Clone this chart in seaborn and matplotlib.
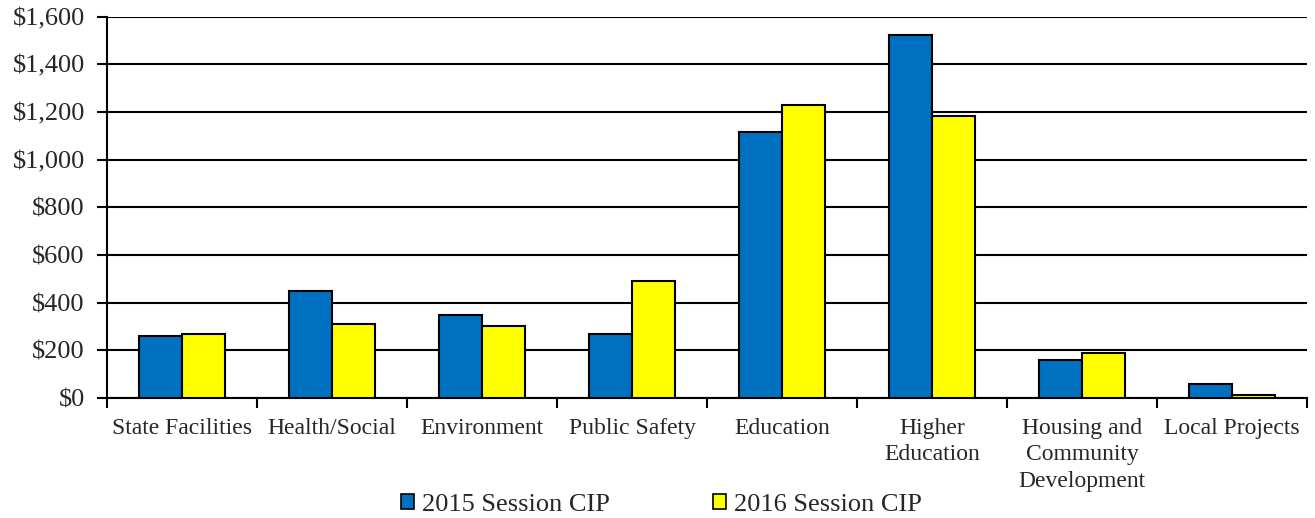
import matplotlib
matplotlib.use("Agg")
import matplotlib.pyplot as plt
import seaborn as sns
import pandas as pd
import numpy as np
from matplotlib.ticker import FuncFormatter, FixedLocator
from matplotlib.patches import Patch

categories = ["State Facilities", "Health/Social", "Environment", "Public Safety",
              "Education", "Higher\nEducation", "Housing and\nCommunity\nDevelopment",
              "Local Projects"]
series_names = ["2015 Session CIP", "2016 Session CIP"]
values_2015 = [259, 447, 347, 268, 1118, 1524, 161, 60]
values_2016 = [270, 310, 301, 490, 1230, 1184, 189, 11]
colors = ["#0070C0", "#FFFF00"]

df = pd.DataFrame({
    "category": categories * 2,
    "series": [series_names[0]] * len(categories) + [series_names[1]] * len(categories),
    "value": values_2015 + values_2016,
})

sns.set_style("white")
plt.rcParams["font.family"] = ["Liberation Serif", "DejaVu Serif"]

fig = plt.figure(figsize=(13.15, 5.18), dpi=100)
ax = fig.add_axes([0.0814, 0.2317, 0.9126, 0.7361])

sns.barplot(data=df, x="category", y="value", hue="series", palette=colors,
            width=0.575, edgecolor="black", linewidth=1.5, saturation=1,
            ax=ax, legend=False, zorder=3)

ax.set_ylim(0, 1600)
ax.set_xlim(-0.5, len(categories) - 0.5)
ax.yaxis.set_major_locator(FixedLocator(np.arange(0, 1601, 200)))
ax.yaxis.set_major_formatter(FuncFormatter(lambda v, p: f"${v:,.0f}"))
ax.grid(axis="y", color="black", linewidth=1.5, zorder=0)
ax.set_axisbelow(True)
for s in ["top", "right"]:
    ax.spines[s].set_visible(False)
for s in ["left", "bottom"]:
    ax.spines[s].set_color("black")
    ax.spines[s].set_linewidth(1.5)

ax.set_xlabel("")
ax.set_ylabel("")
ax.tick_params(axis="y", which="major", direction="out", length=7, width=1.5,
               color="black", labelsize=19, pad=9, left=True)
ax.tick_params(axis="x", which="major", length=0, labelsize=17, pad=14.5)
ax.xaxis.set_minor_locator(FixedLocator(np.arange(-0.5, len(categories), 1.0)))
ax.tick_params(axis="x", which="minor", direction="out", length=7, width=1.5,
               color="black", bottom=True)
for lbl in ax.get_xticklabels():
    lbl.set_verticalalignment("top")
    lbl.set_multialignment("center")
    lbl.set_linespacing(1.33)

handles = [Patch(facecolor=c, edgecolor="black", linewidth=1.2) for c in colors]
fig.legend(handles, series_names, loc="center", bbox_to_anchor=(0.503, 0.025),
           ncol=2, frameon=False, fontsize=19, handlelength=0.5, handleheight=0.5,
           handletextpad=0.3, columnspacing=3.9, borderaxespad=0)

fig.savefig("out.png", dpi=100)
